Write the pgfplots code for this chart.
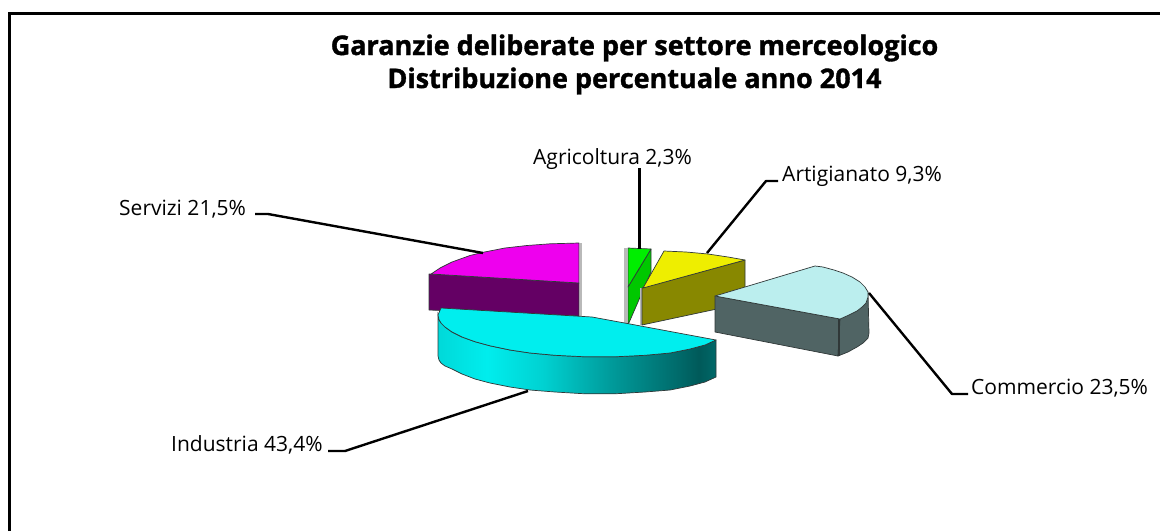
\documentclass[border=0pt]{standalone}
\usepackage{fontspec}
\setmainfont{Open Sans}
\newfontfamily\ttlfont{Open Sans}[BoldFeatures={FakeBold=1.3}]
\usepackage{pgfplots}
\pgfplotsset{compat=1.18}
\definecolor{magtop}{HTML}{EE00EE}
\definecolor{magside}{HTML}{640064}
\definecolor{cyantop}{HTML}{00EEEE}
\definecolor{greentop}{HTML}{00EE00}
\definecolor{greenside}{HTML}{00C800}
\definecolor{yeltop}{HTML}{EEEE00}
\definecolor{yelside}{HTML}{888800}
\definecolor{comtop}{HTML}{BBEEEE}
\definecolor{comside}{HTML}{506464}
\definecolor{edge}{HTML}{303838}
\pgfdeclarehorizontalshading{indside}{100bp}{
  rgb(0bp)=(0,.85,.85);
  rgb(25bp)=(0,.85,.85);
  rgb(33.8bp)=(0,.93,.93);
  rgb(43.9bp)=(0,.82,.82);
  rgb(55.9bp)=(0,.61,.61);
  rgb(68bp)=(0,.42,.42);
  rgb(72bp)=(0,.35,.35);
  rgb(75bp)=(0,.41,.41);
  rgb(100bp)=(0,.41,.41)}
\tikzset{
  slice/.style={draw=edge,line width=0.7pt,line join=round,no markers},
  leader/.style={black,line width=2.4pt,no markers,line join=round},
  lab/.style={anchor=base west,inner sep=0pt,font=\fontsize{21}{22}\selectfont,text=black},
  ttl/.style={anchor=base,inner sep=0pt,font=\ttlfont\bfseries\fontsize{27}{28}\selectfont,text=black},
}
\begin{document}
\begin{tikzpicture}
\begin{axis}[
  width=1160pt,height=531pt,scale only axis,
  xmin=0,xmax=1160,ymin=0,ymax=531,y dir=reverse,
  axis line style={draw=none},xtick=\empty,ytick=\empty,
]
% frame
\addplot[black,line width=3pt,no markers] coordinates {(9.5,531)(9.5,13.5)(1160,13.5)};
% servizi
\addplot[gray!55,line width=1.5pt,no markers] coordinates {(581,243)(581,316)};
\addplot[slice,fill=magside] coordinates {(429,274)(579,283)(579,316)(429,310)} --cycle;
\addplot[slice,fill=magtop] coordinates {(431,274)(440,268)(452,262)(470,255.5)(483,252.3)(505,248)(527,245.5)(550,243.8)(579,243)(579,283)} --cycle;
% agricoltura
\addplot[gray!55,line width=2.5pt,no markers] coordinates {(625.5,248)(625.5,323)};
\addplot[slice,fill=greenside] coordinates {(651,249)(651,272)(628,325)(628,287)} --cycle;
\addplot[slice,fill=greentop] coordinates {(628,248)(651,249)(628,287)} --cycle;
% artigianato
\addplot[gray!55,line width=1.5pt,no markers] coordinates {(641,288)(641,325)};
\addplot[slice,fill=yelside] coordinates {(745,260)(745,303)(642,325)(642,288)} --cycle;
\addplot[slice,fill=yeltop] coordinates {(664,251)(686,252)(708,254)(728,257)(745,260)(643,288)} --cycle;
% commercio
\addplot[slice,fill=comside] coordinates {(715,296)(840,319)(838,356)(715,332)} --cycle;
\addplot[slice,fill=comside] coordinates {(840,319)(868,292)(869,333)(868,338)(863,343)(857,347)(848,352)(838,356)} --cycle;
\addplot[slice,fill=comtop] coordinates {(715,296)(815,266)(823,267)(834,270)(843,273)(852,277)(860,282)(865,287)(868,292)(868,297)(866,303)(862,307)(857,311)(849,315)(840,319)} --cycle;
\addplot[edge,line width=1.2pt,no markers] coordinates {(839,319)(839,356)};
% industria
\addplot[draw=edge,line width=0.7pt,no markers,shading=indside] coordinates {(438,315)(438,356)(439,360)(441,363)(445,366)(452,369)(462,374)(475,379)(490,383)(510,387)(530,390)(555,392)(585,393.8)(615,393.8)(645,392)(670,390)(690,386)(705,382)(716,377)(716,340)(705,345)(690,349)(670,353)(645,355.3)(615,356.8)(585,356.8)(555,355.3)(530,353)(510,350)(490,345.8)(475,341.7)(462,337)(452,332)(445,327)(441,323)(439,319.6)} --cycle;
\addplot[slice,fill=cyantop] coordinates {(441,308)(592,317)(630,324)(716,340)(705,345)(690,349)(670,353)(645,355.3)(615,356.8)(585,356.8)(555,355.3)(530,353)(510,350)(490,345.8)(475,341.7)(462,337)(452,332)(445,327)(441,323)(439,319.6)(438,315)} --cycle;
% leaders
\addplot[leader,line width=3pt] coordinates {(639,168)(639,249)};
\addplot[leader] coordinates {(778,181)(766,181)(707,253)};
\addplot[leader] coordinates {(255,214)(268,214)(483,253)};
\addplot[leader] coordinates {(869,293)(952,394)(968,394)};
\addplot[leader] coordinates {(528,391)(345,451)(328,451)};
% labels
\node[lab] at (axis cs:533,164) {Agricoltura 2,3\%};
\node[lab] at (axis cs:782,181) {Artigianato 9,3\%};
\node[lab] at (axis cs:119,215) {Servizi 21,5\%};
\node[lab] at (axis cs:971,394) {Commercio 23,5\%};
\node[lab] at (axis cs:171,451) {Industria 43,4\%};
\node[ttl] at (axis cs:634.5,55) {Garanzie deliberate per settore merceologico};
\node[ttl] at (axis cs:634.5,88) {Distribuzione percentuale anno 2014};
\end{axis}
\end{tikzpicture}
\end{document}
